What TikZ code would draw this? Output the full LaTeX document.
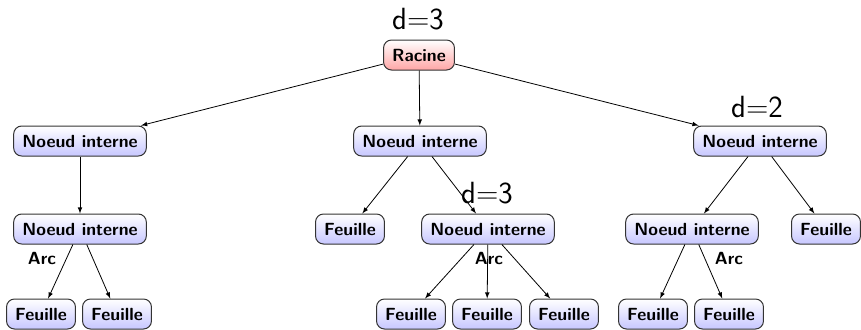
\documentclass[tikz,border=0pt]{standalone}
\usetikzlibrary{arrows}

\tikzset{every picture/.style={line width=0.75pt}}
\tikzset{
  noeud/.style={draw=black!80, rounded corners=6pt, top color=white, bottom color=blue!22,
    font=\sffamily\bfseries\fontsize{13.2}{16}\selectfont, inner xsep=6.5pt, inner ysep=0pt, minimum height=22.5pt},
  racine/.style={noeud, bottom color=red!35},
  arc/.style={-latex, line width=0.6pt},
  profondeur/.style={font=\sffamily\fontsize{23}{27}\selectfont, inner sep=0.75pt},
  etiquette/.style={font=\sffamily\bfseries\fontsize{13.2}{16}\selectfont, inner sep=0.75pt}
}

\begin{document}
\begin{tikzpicture}[x=0.75pt,y=0.75pt,yscale=-1,xscale=1]
\useasboundingbox (0,0) rectangle (861,329);
% Racine
\node [racine] (r) at (419,55) {Racine};
% Niveau 1
\node [noeud] (n1) at (80,141) {Noeud interne};
\node [noeud] (n2) at (420,141) {Noeud interne};
\node [noeud] (n3) at (760,141) {Noeud interne};
% Niveau 2
\node [noeud] (n11) at (80,229) {Noeud interne};
\node [noeud] (f21) at (350,229) {Feuille};
\node [noeud] (n22) at (488,229) {Noeud interne};
\node [noeud] (n31) at (692,229) {Noeud interne};
\node [noeud] (f32) at (826,229) {Feuille};
% Niveau 3
\node [noeud] (f111) at (41,314) {Feuille};
\node [noeud] (f112) at (117,314) {Feuille};
\node [noeud] (f221) at (411,314) {Feuille};
\node [noeud] (f222) at (487,314) {Feuille};
\node [noeud] (f223) at (564,314) {Feuille};
\node [noeud] (f311) at (653,314) {Feuille};
\node [noeud] (f312) at (729,314) {Feuille};
% Arcs
\draw [arc] (r) -- (n1);
\draw [arc] (r) -- (n2);
\draw [arc] (r) -- (n3);
\draw [arc] (n1) -- (n11);
\draw [arc] (n2) -- (f21);
\draw [arc] (n2) -- (n22);
\draw [arc] (n3) -- (n31);
\draw [arc] (n3) -- (f32);
\draw [arc] (n11) -- (f111);
\draw [arc] (n11) -- (f112);
\draw [arc] (n22) -- (f221);
\draw [arc] (n22) -- (f222);
\draw [arc] (n22) -- (f223);
\draw [arc] (n31) -- (f311);
\draw [arc] (n31) -- (f312);
% Profondeurs
\node [profondeur] (d1) at (418,19) {d=3};
\node [profondeur] (d2) at (757,107) {d=2};
\node [profondeur] (d3) at (487,193) {d=3};
% Etiquettes
\node [etiquette] (a1) at (42,258) {Arc};
\node [etiquette] (a2) at (489,258) {Arc};
\node [etiquette] (a3) at (729,258) {Arc};
\end{tikzpicture}
\end{document}
